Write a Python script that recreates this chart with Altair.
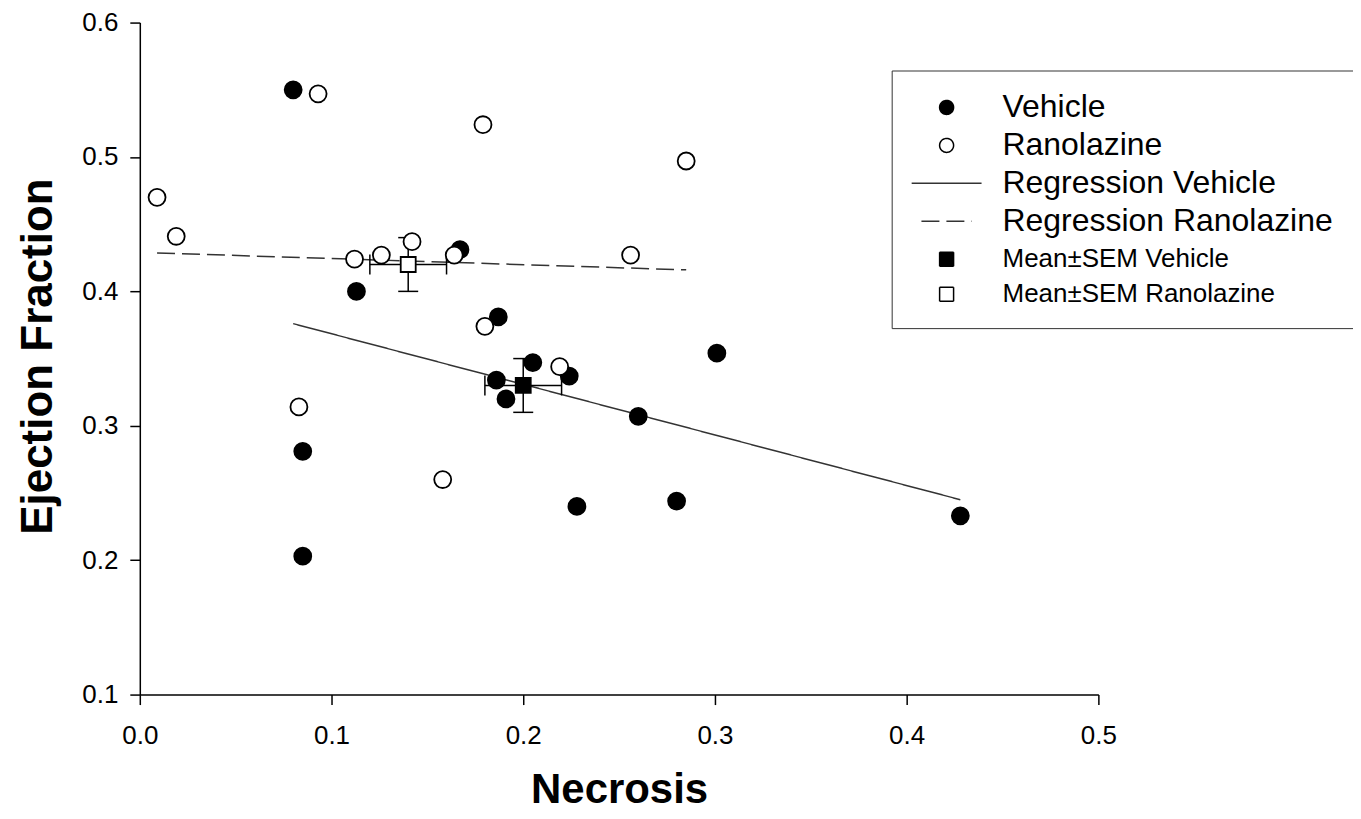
import altair as alt
import pandas as pd

# ---- data ----
veh_x = [0.080, 0.167, 0.113, 0.187, 0.205, 0.186, 0.224, 0.191, 0.301, 0.260, 0.085, 0.228, 0.280, 0.428, 0.085]
veh_y = [0.550, 0.431, 0.400, 0.381, 0.347, 0.334, 0.337, 0.320, 0.354, 0.307, 0.281, 0.240, 0.244, 0.233, 0.203]

ran_x = [0.093, 0.179, 0.285, 0.009, 0.019, 0.112, 0.126, 0.142, 0.164, 0.256, 0.180, 0.219, 0.158, 0.083]
ran_y = [0.547, 0.524, 0.497, 0.470, 0.441, 0.424, 0.427, 0.437, 0.427, 0.427, 0.374, 0.344, 0.260, 0.314]

mean_series = ["Mean±SEM Vehicle", "Mean±SEM Ranolazine"]
mean_x = [0.200, 0.140]
mean_y = [0.330, 0.420]
sem_x = [0.020, 0.020]
sem_y = [0.020, 0.020]

reg_series = ["Regression Vehicle", "Regression Vehicle", "Regression Ranolazine", "Regression Ranolazine"]
reg_x = [0.080, 0.428, 0.009, 0.285]
reg_y = [0.376, 0.245, 0.4286, 0.416]

series_domain = ["Vehicle", "Ranolazine", "Regression Vehicle", "Regression Ranolazine",
                 "Mean±SEM Vehicle", "Mean±SEM Ranolazine"]
shape_range = ["circle", "circle", "M-5,0L5,0", "M-3.6,0L3.6,0", "square", "square"]
fill_range = ["#000000", "#ffffff", "#ffffff", "#ffffff", "#000000", "#ffffff"]
stroke_range = ["#000000", "#000000", "#333333", "#333333", "#000000", "#000000"]
dash_range = [[1, 0], [1, 0], [1, 0], [18, 7], [1, 0], [1, 0]]

x_ticks = [0.0, 0.1, 0.2, 0.3, 0.4, 0.5]
y_ticks = [0.1, 0.2, 0.3, 0.4, 0.5, 0.6]

# ---- tables ----
pts = pd.DataFrame({
    "necrosis": veh_x + ran_x,
    "ef": veh_y + ran_y,
    "series": ["Vehicle"] * len(veh_x) + ["Ranolazine"] * len(ran_x),
})
means = pd.DataFrame({
    "necrosis": mean_x,
    "ef": mean_y,
    "x_lo": [m - s for m, s in zip(mean_x, sem_x)],
    "x_hi": [m + s for m, s in zip(mean_x, sem_x)],
    "y_lo": [m - s for m, s in zip(mean_y, sem_y)],
    "y_hi": [m + s for m, s in zip(mean_y, sem_y)],
    "series": mean_series,
})
reg = pd.DataFrame({"necrosis": reg_x, "ef": reg_y, "series": reg_series})

FONT = "Liberation Sans"

x_scale = alt.Scale(domain=[0, 0.5], nice=False, zero=False)
y_scale = alt.Scale(domain=[0.1, 0.6], nice=False, zero=False)

x_axis = alt.Axis(
    orient="bottom",
    title="Necrosis", values=x_ticks, format=".1f", grid=False,
    tickSize=10, tickWidth=1.5, tickColor="black",
    domainColor="black", domainWidth=1.5,
    labelFont=FONT, labelFontSize=26, labelColor="black", labelPadding=18, labelFlush=False,
    titleFont=FONT, titleFontSize=42, titleFontWeight="bold", titleColor="black",
    titleBaseline="alphabetic", titleY=108,
)
y_axis = alt.Axis(
    orient="left",
    title="Ejection Fraction", values=y_ticks, format=".1f", grid=False,
    tickSize=10, tickWidth=1.5, tickColor="black",
    domainColor="black", domainWidth=1.5,
    labelFont=FONT, labelFontSize=26, labelColor="black", labelPadding=12, labelFlush=False,
    titleFont=FONT, titleFontSize=44, titleFontWeight="bold", titleColor="black",
    titleAngle=270, titleBaseline="alphabetic", titleAlign="center", titleX=-88, titleY=334,
)


def X(field):
    return alt.X(field, type="quantitative", scale=x_scale, axis=x_axis)


def Y(field):
    return alt.Y(field, type="quantitative", scale=y_scale, axis=y_axis)


legend = alt.Legend(
    title=None, orient="none", legendX=753, legendY=48,
    padding=21, fillColor="white", strokeColor="#333333",
    labelFont=FONT, labelColor="black", labelLimit=600,
    labelFontSize={"expr": "(datum && datum.label && indexof(datum.label, 'Mean') === 0) ? 26 : 32"},
    labelOffset=40, symbolOffset=18, rowPadding=6,
    symbolSize=196, symbolStrokeColor="black", symbolStrokeWidth=1.5, symbolOpacity=1,
)

shape_scale = alt.Scale(domain=series_domain, range=shape_range)
fill_scale = alt.Scale(domain=series_domain, range=fill_range)
stroke_scale = alt.Scale(domain=series_domain, range=stroke_range)
dash_scale = alt.Scale(domain=series_domain, range=dash_range)

reg_lines = alt.Chart(reg).mark_line(strokeWidth=1.5).encode(
    x=X("necrosis"), y=Y("ef"),
    stroke=alt.Stroke("series:N", scale=stroke_scale, legend=legend),
    strokeDash=alt.StrokeDash("series:N", scale=dash_scale, legend=legend),
)

xerr = alt.Chart(means).mark_rule(color="black", strokeWidth=1.5).encode(
    x=X("x_lo"), x2="x_hi:Q", y=Y("ef"))
yerr = alt.Chart(means).mark_rule(color="black", strokeWidth=1.5).encode(
    x=X("necrosis"), y=Y("y_lo"), y2="y_hi:Q")
xcaps = alt.Chart(means).transform_fold(["x_lo", "x_hi"], as_=["k", "cx"]).mark_tick(
    orient="vertical", size=20, thickness=1.5, color="black", opacity=1).encode(
    x=X("cx"), y=Y("ef"))
ycaps = alt.Chart(means).transform_fold(["y_lo", "y_hi"], as_=["k", "cy"]).mark_tick(
    orient="horizontal", size=20, thickness=1.5, color="black", opacity=1).encode(
    x=X("necrosis"), y=Y("cy"))

points = alt.Chart(pts).mark_point(filled=True, size=289, strokeWidth=1.8, opacity=1).encode(
    x=X("necrosis"), y=Y("ef"),
    shape=alt.Shape("series:N", scale=shape_scale, legend=legend),
    fill=alt.Fill("series:N", scale=fill_scale, legend=legend),
    stroke=alt.Stroke("series:N", scale=stroke_scale, legend=legend),
)

mean_pts = alt.Chart(means).mark_point(filled=True, size=225, strokeWidth=1.8, opacity=1).encode(
    x=X("necrosis"), y=Y("ef"),
    shape=alt.Shape("series:N", scale=shape_scale, legend=legend),
    fill=alt.Fill("series:N", scale=fill_scale, legend=legend),
    stroke=alt.Stroke("series:N", scale=stroke_scale, legend=legend),
)

chart = alt.layer(reg_lines, xerr, yerr, xcaps, ycaps, points, mean_pts).properties(
    width=960, height=673,
    autosize=alt.AutoSizeParams(type="none"),
    padding={"left": 132, "top": 14, "right": 255, "bottom": 116},
    background="white",
).configure_view(stroke=None)

chart.save("out.html", embed_options={"renderer": "svg", "actions": False})
